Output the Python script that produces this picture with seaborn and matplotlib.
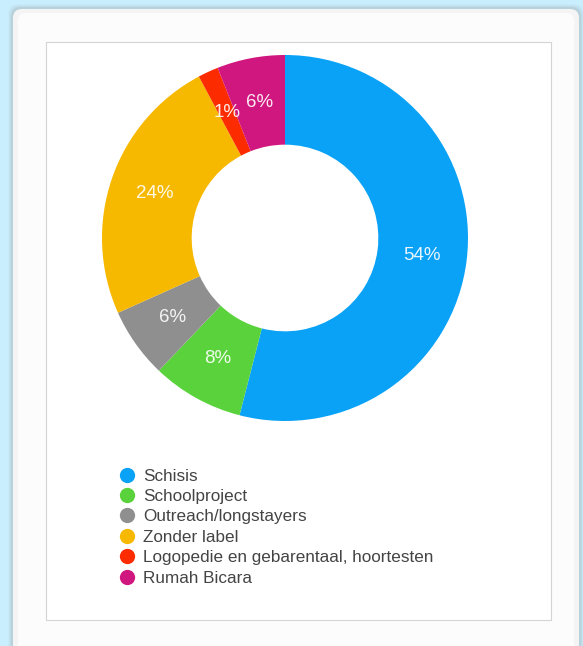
import matplotlib
matplotlib.use("Agg")
import matplotlib.pyplot as plt
import seaborn as sns
import numpy as np
from matplotlib.patches import FancyBboxPatch, Rectangle
from matplotlib.lines import Line2D

categories = ["Schisis", "Schoolproject", "Outreach/longstayers", "Zonder label",
              "Logopedie en gebarentaal, hoortesten", "Rumah Bicara"]
values = [54.0, 8.1, 6.2, 23.9, 1.8, 6.0]
pct_labels = ["54%", "8%", "6%", "24%", "1%", "6%"]
colors = ["#0aa2f6", "#5ad23b", "#8f8f8f", "#f6b900", "#fc2b00", "#d0177f"]

sns.set_theme(style="white")
plt.rcParams['font.family'] = ['Liberation Sans', 'DejaVu Sans']

W, H = 583, 646
fig = plt.figure(figsize=(W / 100, H / 100), dpi=100)
fig.patch.set_facecolor("#c9eefd")

# background card with soft shadow
bg = fig.add_axes([0, 0, 1, 1])
bg.set_xlim(0, W)
bg.set_ylim(H, 0)
bg.axis("off")
for i, a in enumerate([0.04, 0.07, 0.10, 0.15]):
    off = 4 - i
    bg.add_patch(FancyBboxPatch((12 - off, 8 - off), 568 + 2 * off, 700,
                                boxstyle="round,pad=0,rounding_size=10",
                                fc="#999999", ec="none", alpha=a))
bg.add_patch(FancyBboxPatch((13, 9), 566, 700, boxstyle="round,pad=0,rounding_size=9",
                            fc="#f4f4f4", ec="none"))
bg.add_patch(FancyBboxPatch((18, 13), 556, 700, boxstyle="round,pad=0,rounding_size=8",
                            fc="#fcfcfc", ec="none"))
bg.add_patch(Rectangle((46, 43), 505, 578, fc="#dddddd", ec="none"))
bg.add_patch(Rectangle((46, 42), 505, 578, fc="white", ec="#d4d4d4", lw=0.8))

# donut
cx, cy, R = 285, 238, 183
ax = fig.add_axes([(cx - R) / W, (H - cy - R) / H, 2 * R / W, 2 * R / H])
wedges, _ = ax.pie(values, colors=colors, startangle=90, counterclock=False,
                   wedgeprops=dict(width=0.49, edgecolor="none"))
ax.set_xlim(-1, 1)
ax.set_ylim(-1, 1)
ax.set_aspect("equal")
ax.axis("off")
for w, lab in zip(wedges, pct_labels):
    ang = np.deg2rad((w.theta1 + w.theta2) / 2)
    r = 0.755
    ax.text(r * np.cos(ang), r * np.sin(ang), lab, ha="center", va="center",
            color="white", fontsize=13.5, alpha=0.9)

handles = [Line2D([0], [0], marker="o", linestyle="none", markersize=11,
                  markerfacecolor=c, markeredgecolor="none") for c in colors]
fig.legend(handles, categories, loc="upper left",
           bbox_to_anchor=(108 / W, 1 - 460 / H), frameon=False,
           fontsize=12.3, labelspacing=0.32, handletextpad=0.35,
           handlelength=1.2, borderpad=0, labelcolor="#444444")

fig.savefig("out.png", dpi=100, facecolor=fig.get_facecolor())
